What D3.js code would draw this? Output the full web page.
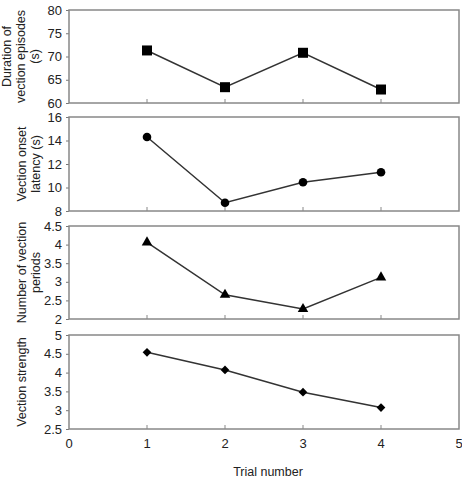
<!DOCTYPE html>
<html>
<head>
<meta charset="utf-8">
<script src="https://cdn.jsdelivr.net/npm/d3@7"></script>
<style>
  body { margin: 0; background: #fff; }
  text { font-family: "Liberation Sans", Arial, sans-serif; fill: #222; }
</style>
</head>
<body>
<div id="chart"></div>
<script>
// trial numbers on the shared x axis
var trials = [1, 2, 3, 4];
var xTicks = [0, 1, 2, 3, 4, 5];

// panel values
var durationValues = [71.3, 63.4, 70.8, 62.9];
var latencyValues = [14.3, 8.7, 10.45, 11.3];
var periodsValues = [4.06, 2.65, 2.27, 3.12];
var strengthValues = [4.54, 4.07, 3.48, 3.07];

// y tick labels per panel
var durationTicks = [60, 65, 70, 75, 80];
var latencyTicks = [8, 10, 12, 14, 16];
var periodsTicks = [2, 2.5, 3, 3.5, 4, 4.5];
var strengthTicks = [2.5, 3, 3.5, 4, 4.5, 5];

var panelTitles = [
    ["Duration of", "vection episodes", "(s)"],
    ["Vection onset", "latency (s)"],
    ["Number of vection", "periods"],
    ["Vection strength"]
];

var panels = [
    { values: durationValues, ticks: durationTicks, title: panelTitles[0], marker: d3.symbolSquare, size: 100, rot: 0, top: 10, bottom: 103, tx: 7 },
    { values: latencyValues, ticks: latencyTicks, title: panelTitles[1], marker: d3.symbolCircle, size: 58, rot: 0, top: 117, bottom: 211, tx: 22 },
    { values: periodsValues, ticks: periodsTicks, title: panelTitles[2], marker: d3.symbolTriangle, size: 48, rot: 0, top: 226, bottom: 319, tx: 22 },
    { values: strengthValues, ticks: strengthTicks, title: panelTitles[3], marker: d3.symbolSquare, size: 38, rot: 45, top: 335, bottom: 429, tx: 22 }
];

var WIDTH = 462, HEIGHT = 478;
var LEFT = 69, RIGHT = 459;

var svg = d3.select("#chart").append("svg")
    .attr("width", WIDTH)
    .attr("height", HEIGHT);

var x = d3.scaleLinear().domain([0, 5]).range([LEFT, RIGHT]);

panels.forEach(function (p, idx) {
    var y = d3.scaleLinear()
        .domain([p.ticks[0], p.ticks[p.ticks.length - 1]])
        .range([p.bottom, p.top]);
    var g = svg.append("g");

    // y axis (outward ticks)
    var yAxis = g.append("g")
        .attr("transform", "translate(" + LEFT + ",0)")
        .call(d3.axisLeft(y).tickValues(p.ticks).tickSize(3).tickPadding(4).tickFormat(function (d) { return d; }));
    yAxis.select(".domain").remove();
    yAxis.selectAll("line").attr("stroke", "#777");
    yAxis.selectAll("text").attr("font-size", "13px").attr("fill", "#222").attr("font-family", "Liberation Sans, Arial, sans-serif");

    // inward x ticks at each trial
    g.selectAll(".xt").data(trials).enter().append("line")
        .attr("x1", function (d) { return x(d); })
        .attr("x2", function (d) { return x(d); })
        .attr("y1", p.bottom)
        .attr("y2", p.bottom - 4)
        .attr("stroke", "#888")
        .attr("stroke-width", 1);

    // frame
    g.append("rect")
        .attr("x", LEFT)
        .attr("y", p.top)
        .attr("width", RIGHT - LEFT)
        .attr("height", p.bottom - p.top)
        .attr("fill", "none")
        .attr("stroke", "#888")
        .attr("stroke-width", 1.5);

    // series line
    var line = d3.line()
        .x(function (d, i) { return x(trials[i]); })
        .y(function (d) { return y(d); });
    g.append("path")
        .datum(p.values)
        .attr("d", line)
        .attr("fill", "none")
        .attr("stroke", "#333")
        .attr("stroke-width", 1.5);

    // markers
    g.selectAll(".mk").data(p.values).enter().append("path")
        .attr("d", d3.symbol().type(p.marker).size(p.size))
        .attr("transform", function (d, i) {
            return "translate(" + x(trials[i]) + "," + y(d) + ") rotate(" + p.rot + ")";
        })
        .attr("fill", "#000");

    // axis title, rotated
    var cy = (p.top + p.bottom) / 2;
    var t = g.append("text")
        .attr("transform", "translate(" + p.tx + "," + cy + ") rotate(-90)")
        .attr("text-anchor", "middle")
        .attr("font-size", "12.5px");
    p.title.forEach(function (s, i) {
        t.append("tspan")
            .attr("x", 0)
            .attr("dy", i === 0 ? "0.35em" : 14)
            .text(s);
    });
});

// shared x axis labels
var last = panels[panels.length - 1];
svg.selectAll(".xl").data(xTicks).enter().append("text")
    .attr("x", function (d) { return x(d); })
    .attr("y", last.bottom + 19)
    .attr("text-anchor", "middle")
    .attr("font-size", "13px")
    .text(function (d) { return d; });

svg.append("text")
    .attr("x", (LEFT + RIGHT) / 2 + 4)
    .attr("y", 476)
    .attr("text-anchor", "middle")
    .attr("font-size", "12.5px")
    .text("Trial number");
</script>
</body>
</html>
